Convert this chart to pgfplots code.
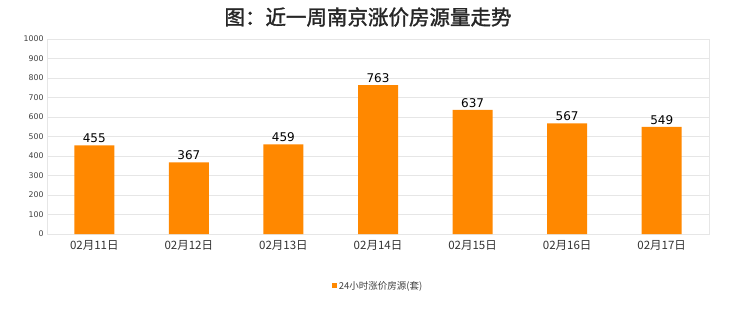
\documentclass[border=0pt]{standalone}
\usepackage{pgfplots}
\pgfplotsset{compat=1.18}
\usepackage{fontspec}
\setmainfont{DejaVu Sans}
\newfontfamily\cjk{Noto Sans CJK SC}
\newfontfamily\cjktitle[FakeBold=1.6]{Noto Sans CJK SC}
\definecolor{barc}{HTML}{FF8800}
\definecolor{gridc}{HTML}{E6E6E6}
\begin{document}
\begin{tikzpicture}[x=1bp,y=1bp]
\useasboundingbox (0,0) rectangle (740,312);
\fill[white] (0,0) rectangle (740,312);
\node[font=\cjktitle\fontsize{20.5bp}{24bp}\selectfont, text=black!85] at (368,295) {图：近一周南京涨价房源量走势};
\begin{axis}[
  at={(47bp,78bp)}, anchor=south west,
  scale only axis, width=662bp, height=195bp,
  ymin=0, ymax=1000, ytick={0,100,...,1000},
  xmin=-0.5, xmax=6.5,
  xtick={0,...,6},
  xticklabels={02月11日,02月12日,02月13日,02月14日,02月15日,02月16日,02月17日},
  x tick label style={font=\cjk\fontsize{11.5bp}{14bp}\selectfont, text=black!80, yshift=-3bp},
  y tick label style={font=\fontsize{7.8bp}{9bp}\selectfont, text=black!75},
  /pgf/number format/assume math mode=true,
  /pgf/number format/1000 sep={},
  ymajorgrids, grid style={gridc, line width=0.6pt},
  axis line style={gridc, line width=0.8pt},
  major tick length=0pt,
  tick style={draw=none},
  ybar, bar width=40bp,
  nodes near coords,
  every node near coord/.append style={font=\fontsize{12bp}{14bp}\selectfont, text=black, yshift=-1bp},
  legend style={at={(0.5,-0.22)}, anchor=north, draw=none, fill=none, font=\cjk\fontsize{9.5bp}{11bp}\selectfont, text=black!75},
  legend image code/.code={\fill[barc] (1bp,-2.5bp) rectangle (6bp,2.5bp);},
]
\addplot[fill=barc, draw=none] coordinates {(0,455) (1,367) (2,459) (3,763) (4,637) (5,567) (6,549)};
\addlegendentry{24小时涨价房源(套)}
\end{axis}
\end{tikzpicture}
\end{document}
